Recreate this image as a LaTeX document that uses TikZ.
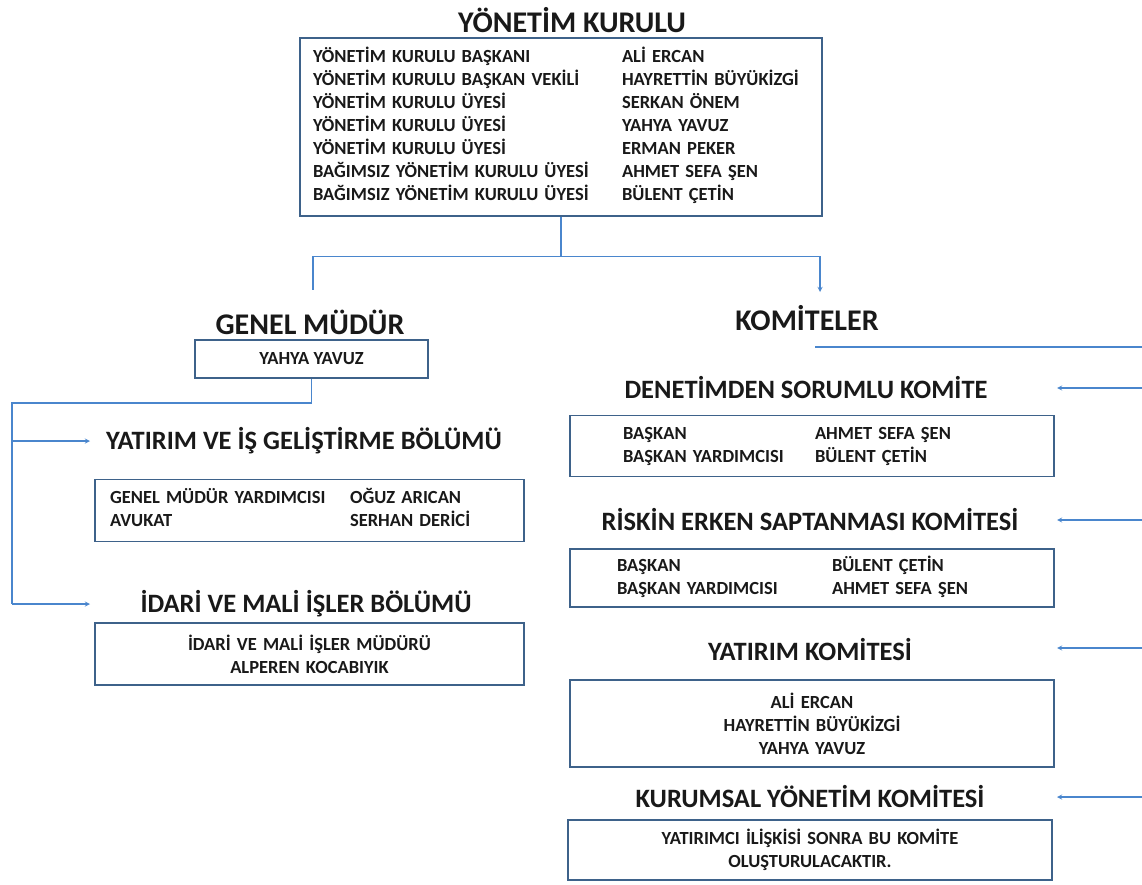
\documentclass[tikz,border=0pt]{standalone}
\usepackage{fontspec}
\setmainfont{Carlito}
\usepackage{tikz}
\usetikzlibrary{shapes.geometric, arrows}
\definecolor{linkblue}{RGB}{74,134,205}
\definecolor{boxline}{RGB}{62,98,138}
\definecolor{ink}{RGB}{25,25,25}
\tikzstyle{head} = [font=\fontsize{30}{34}\selectfont\bfseries, text=ink, inner sep=0pt]
\tikzstyle{sub} = [font=\fontsize{26.5}{30}\selectfont\bfseries, text=ink, inner sep=0pt]
\tikzstyle{panel} = [rectangle, draw=boxline, line width=1.2pt, inner ysep=0pt, font=\fontsize{18.5}{23}\selectfont\bfseries, text=ink]
\tikzstyle{link} = [line width=1.3pt, color=linkblue]
\tikzstyle{linkto} = [line width=1.3pt, ->, >=stealth, color=linkblue]

\begin{document}
\begin{tikzpicture}[x=1pt, y=-1pt, node distance=40pt]
\useasboundingbox (0,0) rectangle (1142,885);

\node (kurul) [head] at (572,20) {YÖNETİM KURULU};
\node (kurulbox) [panel, text width=496pt, inner xsep=13pt, minimum height=178pt, below of=kurul, yshift=-67pt, xshift=-11pt] {\begin{tabular}{@{}p{309pt}@{}l@{}}
YÖNETİM KURULU BAŞKANI & ALİ ERCAN\\
YÖNETİM KURULU BAŞKAN VEKİLİ & HAYRETTİN BÜYÜKİZGİ\\
YÖNETİM KURULU ÜYESİ & SERKAN ÖNEM\\
YÖNETİM KURULU ÜYESİ & YAHYA YAVUZ\\
YÖNETİM KURULU ÜYESİ & ERMAN PEKER\\
BAĞIMSIZ YÖNETİM KURULU ÜYESİ & AHMET SEFA ŞEN\\
BAĞIMSIZ YÖNETİM KURULU ÜYESİ & BÜLENT ÇETİN
\end{tabular}};

\node (gm) [head, below of=kurulbox, yshift=-155pt, xshift=-251pt] {GENEL MÜDÜR};
\node (gmbox) [panel, minimum width=233pt, minimum height=38pt, below of=gm, yshift=3pt, xshift=1.5pt] {YAHYA YAVUZ};
\node (yib) [sub, below of=gmbox, yshift=-42pt, xshift=-7.5pt] {YATIRIM VE İŞ GELİŞTİRME BÖLÜMÜ};
\node (yibbox) [panel, text width=399pt, inner xsep=15pt, minimum height=62pt, below of=yib, yshift=-29.5pt, xshift=5.5pt] {\begin{tabular}{@{}p{240pt}@{}l@{}}
GENEL MÜDÜR YARDIMCISI & OĞUZ ARICAN\\
AVUKAT & SERHAN DERİCİ
\end{tabular}};
\node (idari) [sub, below of=yibbox, yshift=-53.5pt, xshift=-3.5pt] {İDARİ VE MALİ İŞLER BÖLÜMÜ};
\node (idaribox) [panel, text width=399pt, inner xsep=15pt, minimum height=62pt, align=center, below of=idari, yshift=-10pt, xshift=3.5pt] {İDARİ VE MALİ İŞLER MÜDÜRÜ\\ALPEREN KOCABIYIK};

\node (komite) [head, right of=gm, xshift=457pt, yshift=4pt] {KOMİTELER};
\node (denetim) [sub, below of=komite, yshift=-30pt, xshift=-1pt] {DENETİMDEN SORUMLU KOMİTE};
\node (denbox) [panel, text width=378pt, inner xsep=53pt, minimum height=61pt, below of=denetim, yshift=-18pt, xshift=6pt] {\begin{tabular}{@{}p{192pt}@{}l@{}}
BAŞKAN & AHMET SEFA ŞEN\\
BAŞKAN YARDIMCISI & BÜLENT ÇETİN
\end{tabular}};
\node (risk) [sub, below of=denbox, yshift=-34pt, xshift=-2pt] {RİSKİN ERKEN SAPTANMASI KOMİTESİ};
\node (riskbox) [panel, text width=390pt, inner xsep=47pt, minimum height=58pt, below of=risk, yshift=-18pt, xshift=2pt] {\begin{tabular}{@{}p{215pt}@{}l@{}}
BAŞKAN & BÜLENT ÇETİN\\
BAŞKAN YARDIMCISI & AHMET SEFA ŞEN
\end{tabular}};
\node (yatirim) [sub, below of=riskbox, yshift=-32pt, xshift=-2pt] {YATIRIM KOMİTESİ};
\node (yatbox) [panel, text width=458pt, inner xsep=13pt, minimum height=87pt, align=center, below of=yatirim, yshift=-33.5pt, xshift=2pt] {ALİ ERCAN\\HAYRETTİN BÜYÜKİZGİ\\YAHYA YAVUZ};
\node (kurumsal) [sub, below of=yatbox, yshift=-33.5pt, xshift=-2pt] {KURUMSAL YÖNETİM KOMİTESİ};
\node (kurbox) [panel, text width=458pt, inner xsep=13pt, minimum height=60pt, align=center, below of=kurumsal, yshift=-13pt] {YATIRIMCI İLİŞKİSİ SONRA BU KOMİTE\\OLUŞTURULACAKTIR.};

% board to its two branches
\coordinate (split) at ([yshift=-40pt]kurulbox.south);
\coordinate (gmin) at (313,290);
\coordinate (komin) at (820,292);
\draw [link] (kurulbox.south) -- (split);
\draw [link] (split) -| (gmin);
\draw [linkto] (split) -| (komin);

% genel mudur side
\coordinate (lbend) at (12,403);
\coordinate (lfoot) at (12,604);
\coordinate (yibin) at (90,441);
\coordinate (idin) at (90,604);
\draw [link] (gmbox.south) |- (lbend) -- (lfoot);
\draw [linkto] (lbend |- yibin) -- (yibin);
\draw [linkto] (lfoot) -- (idin);

% komiteler side
\coordinate (kline) at (815,347);
\coordinate (redge) at (1142,347);
\draw [link] (kline) -- (redge);
\foreach \tip/\y in {denin/388, riskin/520, yatin/648, kurin/797}{
  \coordinate (\tip) at (1057,\y);
  \draw [linkto] (redge |- \tip) -- (\tip);
}

\end{tikzpicture}
\end{document}
